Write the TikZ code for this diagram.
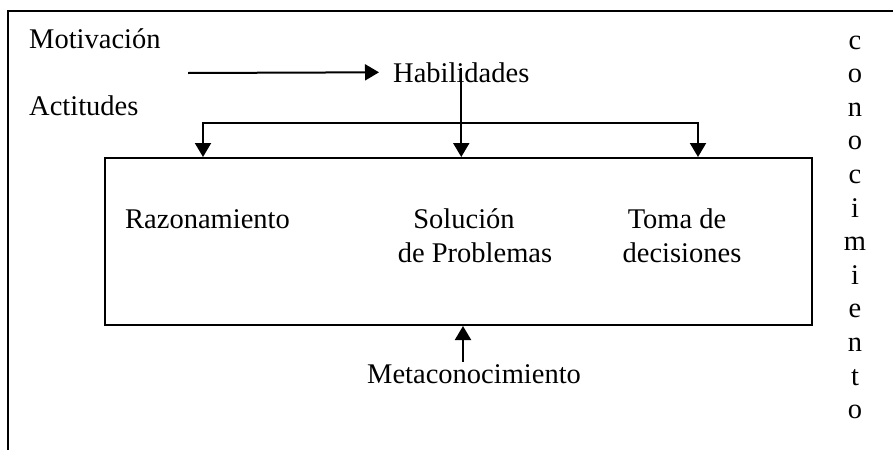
\documentclass[tikz,border=0pt]{standalone}
\usepackage{fontspec}
\setmainfont{Liberation Serif}
\usepackage{tikz}
\usetikzlibrary{positioning}
\usetikzlibrary{arrows, arrows.meta}

\tikzset{
  lbl/.style={inner sep=0pt, font=\fontsize{28.5}{34}\selectfont},
  arr/.style={line width=2pt, -{Triangle[length=14pt,width=16pt]}},
  barr/.style={line width=2pt, {Triangle[length=14pt,width=16pt]}-{Triangle[length=14pt,width=16pt]}},
}

\begin{document}
\begin{tikzpicture}[x=1pt,y=-1pt]
  \useasboundingbox (0,0) rectangle (893,450);
  \def\lw{2pt}

  % marco
  \draw[line width=\lw] (8,450) -- (8,11) -- (893,11);

  \node[lbl, anchor=base west] (mot) at (29,48) {Motivación};
  \node[lbl, anchor=base west] (act) at (29,115) {Actitudes};
  \node[lbl, anchor=base west] (hab) at (393,82) {Habilidades};

  \node[draw, line width=\lw, minimum width=707pt, minimum height=167pt,
        inner sep=0pt] (box) at (458.5,241.5) {};

  \node[lbl, anchor=base west] (raz) at (125,228) {Razonamiento};
  \node[lbl, anchor=base] (sol1) at (464,228) {Solución};
  \node[lbl, anchor=base] (sol2) at (475,262) {de Problemas};
  \node[lbl, anchor=base] (tom1) at (677,228) {Toma de};
  \node[lbl, anchor=base] (tom2) at (682,262) {decisiones};

  \node[lbl, anchor=base west] (meta) at (367,383) {Metaconocimiento};

  \foreach \l [count=\i] in {c,o,n,o,c,i,m,i,e,n,t,o}
    \node[lbl, anchor=base] (con\i) at (855,{49+33.6*(\i-1)}) {\l};

  \coordinate (ma) at (188,73);
  \coordinate (barL) at (203,123);
  \coordinate (barR) at (698,123);
  \coordinate (mt) at (463,362);

  \draw[arr, shorten >=14pt] (ma) -- (hab.west);
  \draw[arr] ([yshift=4pt]hab.center) -- (hab.center |- box.north);
  \draw[barr] (barL |- box.north) -- (barL) -- (barR) -- (barR |- box.north);
  \draw[arr] (mt) -- (mt |- box.south);
\end{tikzpicture}
\end{document}
